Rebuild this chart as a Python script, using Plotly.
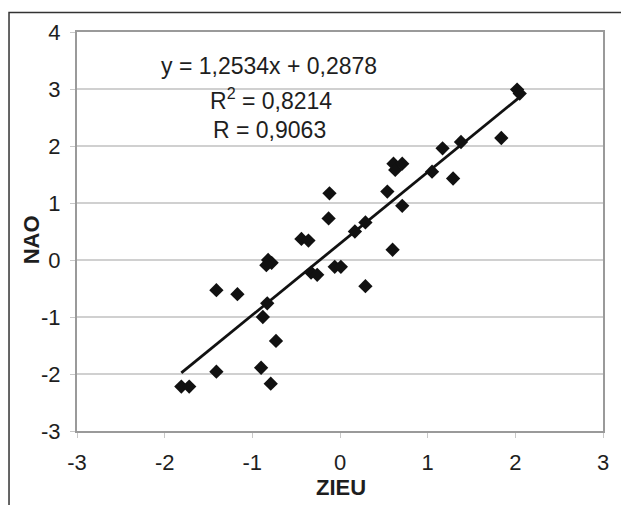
import plotly.graph_objects as go

zieu = [-1.81, -1.72, -1.41, -1.41, -1.17, -0.90, -0.88, -0.83, -0.79, -0.73,
        -0.82, -0.78, -0.84, -0.44, -0.36, -0.33, -0.26, -0.13, -0.12, -0.06,
        0.01, 0.17, 0.29, 0.29, 0.54, 0.60, 0.61, 0.63, 0.71, 0.71,
        1.05, 1.17, 1.29, 1.38, 1.84, 2.02, 2.05]
nao = [-2.22, -2.22, -1.96, -0.53, -0.60, -1.89, -1.00, -0.76, -2.17, -1.42,
       0.00, -0.05, -0.09, 0.37, 0.34, -0.22, -0.26, 0.73, 1.17, -0.12,
       -0.12, 0.50, 0.66, -0.46, 1.20, 0.18, 1.69, 1.58, 1.69, 0.95,
       1.55, 1.96, 1.43, 2.07, 2.14, 2.99, 2.92]
slope = 1.2534
intercept = 0.2878
x_ticks = [-3, -2, -1, 0, 1, 2, 3]
x_labels = ["-3", "-2", "-1", "0", "1", "2", "3"]
y_ticks = [-3, -2, -1, 0, 1, 2, 3, 4]
y_labels = ["-3", "-2", "-1", "0", "1", "2", "3", "4"]
eq_lines = ["y = 1,2534x + 0,2878", "R<sup>2</sup> = 0,8214", "R = 0,9063"]

FONT = "Liberation Sans, Arial, sans-serif"
TXT = "#1e1e1e"
FS = 22
FE = 23

fig = go.Figure()
xl = [min(zieu), max(zieu)]
fig.add_trace(go.Scatter(x=xl, y=[slope * v + intercept for v in xl], mode="lines",
                         line=dict(color="#111111", width=2.8), hoverinfo="skip"))
fig.add_trace(go.Scatter(x=zieu, y=nao, mode="markers",
                         marker=dict(symbol="diamond", size=11, color="#111111",
                                     line=dict(width=0))))

W, H = 621, 505
L, R, T, B = 77, 14, 32, 74
pw, ph = W - L - R, H - T - B

def px(xp):
    return (xp - L) / pw

def py(yp):
    return (H - B - yp) / ph

fig.update_layout(
    width=W, height=H, margin=dict(l=L, r=R, t=T, b=B),
    paper_bgcolor="white", plot_bgcolor="white", showlegend=False,
    font=dict(family=FONT, size=FS, color=TXT),
    xaxis=dict(range=[-3, 3], tickvals=x_ticks, ticktext=x_labels,
               showgrid=False, zeroline=False, showline=True, mirror=True,
               linecolor="#9a9a9a", linewidth=2, ticks="outside", ticklen=5,
               tickcolor="#c8c8c8", ticklabelstandoff=6,
               tickfont=dict(family=FONT, size=FS, color=TXT)),
    yaxis=dict(range=[-3, 4], tickvals=y_ticks, ticktext=y_labels,
               showgrid=True, gridcolor="#d0d0d0", gridwidth=1.5, zeroline=False,
               showline=True, mirror=True, linecolor="#9a9a9a", linewidth=2,
               ticks="outside", ticklen=5, tickcolor="#c8c8c8",
               ticklabelstandoff=5,
               tickfont=dict(family=FONT, size=FS, color=TXT)),
    annotations=[
        dict(xref="paper", yref="paper", x=px(270), y=py(66), text=eq_lines[0],
             showarrow=False, xanchor="center", yanchor="middle",
             font=dict(family=FONT, size=FE, color=TXT)),
        dict(xref="paper", yref="paper", x=px(272), y=py(99), text=eq_lines[1],
             showarrow=False, xanchor="center", yanchor="middle",
             font=dict(family=FONT, size=FE, color=TXT)),
        dict(xref="paper", yref="paper", x=px(271), y=py(130), text=eq_lines[2],
             showarrow=False, xanchor="center", yanchor="middle",
             font=dict(family=FONT, size=FE, color=TXT)),
        dict(xref="paper", yref="paper", x=px(343), y=py(487), text="<b>ZIEU</b>",
             showarrow=False, xanchor="center", yanchor="middle",
             font=dict(family=FONT, size=FS, color=TXT)),
        dict(xref="paper", yref="paper", x=px(31), y=py(240), text="<b>NAO</b>",
             showarrow=False, xanchor="center", yanchor="middle", textangle=-90,
             font=dict(family=FONT, size=FS, color=TXT)),
    ],
    shapes=[
        dict(type="path", xref="paper", yref="paper", layer="above",
             path=f"M {px(8.5)},{py(520)} L {px(8.5)},{py(12.5)} L {px(640)},{py(12.5)}",
             line=dict(color="#333333", width=1.5)),
    ],
)

fig.write_html("out.html")
